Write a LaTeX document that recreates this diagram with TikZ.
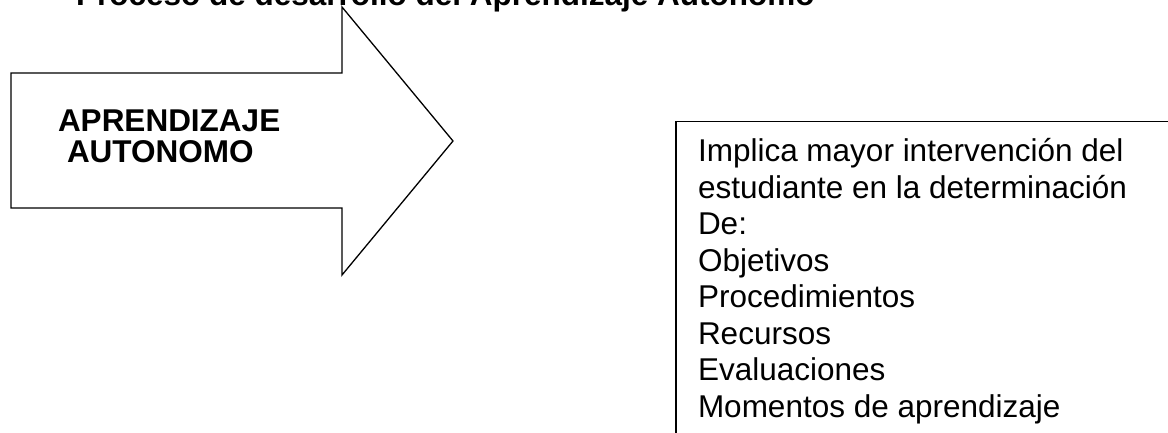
\documentclass[tikz,border=0pt]{standalone}
\usepackage{fontspec}
\setmainfont{Liberation Sans}
\begin{document}
\begin{tikzpicture}[x=1pt,y=-1pt,
  outline/.style={draw=black,line width=1.3pt,fill=white},
  bigtext/.style={font=\fontsize{31.5}{36.5}\selectfont,inner sep=0pt,outer sep=0pt},
  boldtext/.style={bigtext,font=\fontsize{31.5}{36.5}\selectfont\bfseries}]
\useasboundingbox (0,0) rectangle (1168,433);
\clip (0,0) rectangle (1168,433);
% title
\node[boldtext,anchor=base west] (title) at (76,6) {Proceso de desarrollo del Aprendizaje Autonomo};
% arrow
\draw[outline,line join=miter] (11,73) -- (342,73) -- (342,7) -- (453,141) -- (342,275) -- (342,208) -- (11,208) -- cycle;
\node[boldtext,anchor=base west] (apr) at (58,132) {APRENDIZAJE};
\node[boldtext,anchor=base west] (aut) at (67,163) {AUTONOMO};
% box
\draw[outline] (676,121.7) rectangle (1190,460);
\node[bigtext,anchor=base west] (implica) at (698,161.7) {\begin{tabular}[t]{@{}l@{}}Implica mayor intervención del\\
estudiante en la determinación\\
De:\\
Objetivos\\
Procedimientos\\
Recursos\\
Evaluaciones\\
Momentos de aprendizaje\end{tabular}};
\end{tikzpicture}
\end{document}
